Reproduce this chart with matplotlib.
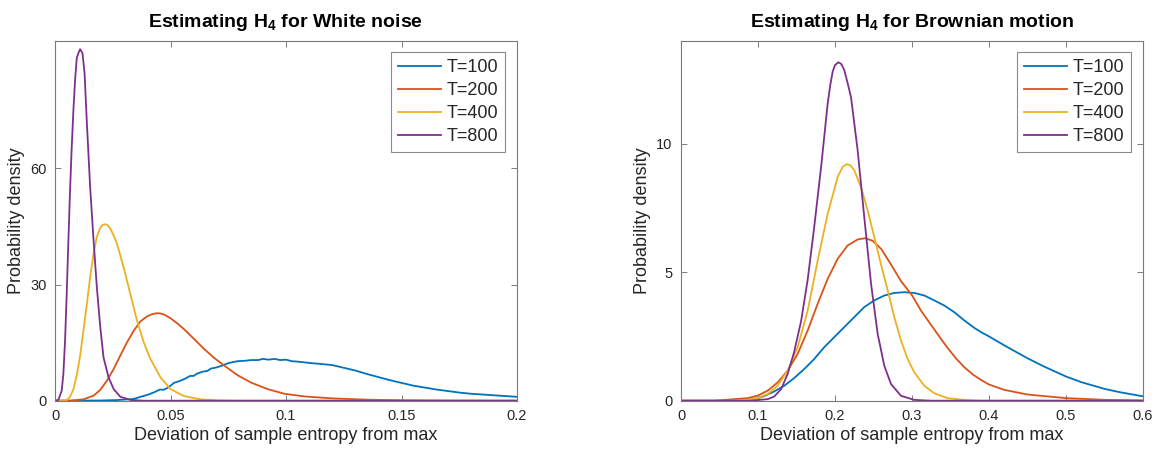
import matplotlib
matplotlib.use("Agg")
import matplotlib.pyplot as plt

plt.rcParams['font.family'] = ['Liberation Sans', 'DejaVu Sans']
plt.rcParams['mathtext.fontset'] = 'custom'
plt.rcParams['mathtext.rm'] = 'Liberation Sans'
plt.rcParams['mathtext.bf'] = 'Liberation Sans:bold'

# ---------------- data: white noise ----------------
wn_t100_x = [0.0, 0.02, 0.027, 0.034, 0.037, 0.040, 0.043, 0.0455, 0.047, 0.049, 0.0515,
             0.054, 0.056, 0.0585, 0.060, 0.0615, 0.064, 0.066, 0.0675, 0.070, 0.0725,
             0.075, 0.0765, 0.079, 0.082, 0.085, 0.088, 0.090, 0.0925, 0.095, 0.0975,
             0.100, 0.1025, 0.105, 0.108, 0.111, 0.115, 0.12, 0.125, 0.13, 0.135, 0.14,
             0.145, 0.15, 0.155, 0.16, 0.165, 0.17, 0.175, 0.18, 0.185, 0.19, 0.195, 0.2]
wn_t100_y = [0.0, 0.05, 0.17, 0.45, 1.0, 1.5, 2.2, 2.9, 2.8, 3.4, 4.6,
             5.1, 5.6, 6.4, 6.4, 7.0, 7.5, 7.7, 8.3, 8.6, 9.1,
             9.7, 9.9, 10.2, 10.3, 10.5, 10.5, 10.8, 10.6, 10.8, 10.5,
             10.6, 10.2, 10.1, 9.9, 9.7, 9.5, 9.2, 8.5, 7.8, 6.9, 6.1,
             5.3, 4.6, 3.9, 3.4, 2.9, 2.5, 2.1, 1.8, 1.6, 1.4, 1.2, 1.0]

wn_t200_x = [0.0, 0.0065, 0.0123, 0.0167, 0.0196, 0.0225, 0.0254, 0.0283, 0.0312, 0.0341,
             0.037, 0.0399, 0.0418, 0.0439, 0.0455, 0.0471, 0.05, 0.0529, 0.0558, 0.0601,
             0.0645, 0.0688, 0.0732, 0.079, 0.0848, 0.092, 0.0993, 0.108, 0.12, 0.136,
             0.152, 0.17, 0.2]
wn_t200_y = [0.0, 0.0, 0.35, 1.3, 2.8, 5.2, 8.2, 11.7, 15.1, 18.1,
             20.5, 21.8, 22.3, 22.6, 22.55, 22.3, 21.3, 20.0, 18.5, 16.0,
             13.4, 11.1, 9.1, 6.6, 4.7, 3.0, 1.8, 1.1, 0.6, 0.25,
             0.1, 0.03, 0.0]

wn_t400_x = [0.0, 0.0036, 0.0051, 0.0065, 0.008, 0.0094, 0.0109, 0.0123, 0.0138, 0.0152,
             0.0167, 0.0181, 0.0196, 0.0206, 0.0217, 0.0228, 0.0239, 0.0253, 0.0268,
             0.0297, 0.0326, 0.0355, 0.0384, 0.0413, 0.0457, 0.05, 0.0558, 0.063, 0.0703,
             0.079, 0.2]
wn_t400_y = [0.0, 0.0, 0.17, 1.0, 3.0, 6.5, 11.7, 18.1, 25.0, 31.9,
             38.0, 42.3, 44.7, 45.4, 45.6, 45.3, 44.5, 42.8, 40.6,
             34.5, 27.6, 20.7, 15.1, 10.8, 6.0, 3.0, 1.2, 0.35, 0.1,
             0.0, 0.0]

wn_t800_x = [0.0, 0.00145, 0.0029, 0.00362, 0.00435, 0.00507, 0.0058, 0.00652, 0.00725,
             0.00797, 0.0087, 0.00942, 0.01014, 0.01087, 0.0119, 0.0128, 0.0138, 0.0152,
             0.0167, 0.0181, 0.0196, 0.021, 0.0232, 0.0254, 0.0283, 0.0326, 0.0384, 0.2]
wn_t800_y = [0.0, 0.17, 2.6, 6.9, 15.5, 27.6, 41.4, 54.4, 65.6,
             75.1, 82.9, 88.5, 89.8, 90.8, 89.8, 84.6, 71.7, 55.3,
             41.4, 29.4, 19.0, 11.2, 6.0, 3.0, 1.0, 0.2, 0.0, 0.0]

# ---------------- data: Brownian motion ----------------
bm_t100_x = [0.0, 0.06, 0.0866, 0.0996, 0.108, 0.121, 0.134, 0.147, 0.16, 0.173, 0.186,
             0.199, 0.212, 0.225, 0.238, 0.251, 0.264, 0.277, 0.29, 0.303, 0.316, 0.329,
             0.342, 0.355, 0.368, 0.381, 0.39, 0.4, 0.42, 0.45, 0.47, 0.5, 0.52, 0.55,
             0.57, 0.6]
bm_t100_y = [0.0, 0.0, 0.04, 0.1, 0.18, 0.36, 0.58, 0.88, 1.23, 1.62, 2.08,
             2.47, 2.86, 3.25, 3.64, 3.9, 4.09, 4.19, 4.22, 4.19, 4.09, 3.9,
             3.7, 3.44, 3.12, 2.83, 2.66, 2.5, 2.15, 1.65, 1.35, 0.94, 0.72, 0.46,
             0.33, 0.17]

bm_t200_x = [0.0, 0.0433, 0.0866, 0.0996, 0.1126, 0.1255, 0.1385, 0.1515, 0.1645, 0.1775,
             0.1905, 0.2035, 0.2165, 0.2294, 0.239, 0.249, 0.26, 0.2727, 0.2857, 0.3,
             0.3117, 0.3247, 0.3377, 0.3463, 0.357, 0.368, 0.379, 0.39, 0.4, 0.42, 0.45,
             0.5, 0.55, 0.6]
bm_t200_y = [0.0, 0.0, 0.1, 0.2, 0.39, 0.71, 1.17, 1.82, 2.73, 3.77,
             4.74, 5.52, 6.04, 6.27, 6.32, 6.22, 5.9, 5.3, 4.65, 4.1,
             3.5, 2.95, 2.4, 2.05, 1.65, 1.3, 1.02, 0.8, 0.63, 0.42, 0.24,
             0.1, 0.035, 0.01]

bm_t400_x = [0.0, 0.065, 0.0866, 0.0996, 0.1126, 0.1255, 0.1385, 0.1515, 0.1645, 0.1775,
             0.1905, 0.2035, 0.21, 0.2156, 0.22, 0.2251, 0.2338, 0.2424, 0.2511, 0.2597,
             0.2684, 0.277, 0.2857, 0.2944, 0.303, 0.316, 0.329, 0.346, 0.368, 0.39, 0.6]
bm_t400_y = [0.0, 0.0, 0.04, 0.1, 0.26, 0.58, 1.17, 2.08, 3.5, 5.45,
             7.27, 8.7, 9.1, 9.2, 9.15, 8.96, 8.3, 7.4, 6.36, 5.3,
             4.3, 3.25, 2.34, 1.62, 1.1, 0.58, 0.29, 0.1, 0.03, 0.0, 0.0]

bm_t800_x = [0.0, 0.09, 0.1126, 0.121, 0.13, 0.1385, 0.147, 0.156, 0.1645, 0.173, 0.182,
             0.1905, 0.194, 0.197, 0.2, 0.2043, 0.208, 0.212, 0.216, 0.2208, 0.2294,
             0.238, 0.2468, 0.2554, 0.264, 0.2727, 0.2857, 0.303, 0.325, 0.6]
bm_t800_y = [0.0, 0.0, 0.06, 0.16, 0.45, 1.04, 1.9, 3.1, 4.7, 6.75, 9.1,
             11.56, 12.3, 12.8, 13.05, 13.16, 13.1, 12.86, 12.4, 11.8, 9.74,
             7.14, 4.55, 2.6, 1.36, 0.65, 0.19, 0.03, 0.0, 0.0]

series_labels = ['T=100', 'T=200', 'T=400', 'T=800']
series_colors = ['#0072BD', '#D95319', '#EDB120', '#7E2F8E']

wn_x_ticks = [0, 0.05, 0.1, 0.15, 0.2]
wn_x_ticklabels = ['0', '0.05', '0.1', '0.15', '0.2']
wn_y_ticks = [0, 30, 60]
bm_x_ticks = [0, 0.1, 0.2, 0.3, 0.4, 0.5, 0.6]
bm_x_ticklabels = ['0', '0.1', '0.2', '0.3', '0.4', '0.5', '0.6']
bm_y_ticks = [0, 5, 10]

W, H = 1155, 449
fig = plt.figure(figsize=(W / 100, H / 100), dpi=100)

ax_l = fig.add_axes([55 / W, 1 - 400.7 / H, 462 / W, 360 / H])
ax_r = fig.add_axes([681 / W, 1 - 400.7 / H, 462 / W, 360 / H])

edge = '#7a7a7a'
txt = '#262626'


def style(ax, title, xt, xtl, yt, xlim, ylim):
    ax.set_xlim(*xlim)
    ax.set_ylim(*ylim)
    ax.set_xticks(xt)
    ax.set_xticklabels(xtl)
    ax.set_yticks(yt)
    ax.set_yticklabels([str(v) for v in yt])
    ax.tick_params(direction='in', length=4, width=0.7, colors=edge,
                   labelcolor=txt, labelsize=10.5, top=True, right=True, pad=6)
    for s in ax.spines.values():
        s.set_color(edge)
        s.set_linewidth(0.8)
    ax.set_xlabel('Deviation of sample entropy from max', fontsize=13, color=txt, labelpad=3)
    ax.set_ylabel('Probability density', fontsize=13, color=txt, labelpad=4)
    ax.set_title(title, fontsize=14, fontweight='bold', color='black', pad=10)
    leg = ax.legend(loc='upper right', fontsize=13, frameon=True, fancybox=False,
                    edgecolor='#8a8a8a', framealpha=1, borderaxespad=0.65,
                    handlelength=2.4, handletextpad=0.3, labelspacing=0.33,
                    borderpad=0.38)
    leg.get_frame().set_linewidth(0.8)
    for t in leg.get_texts():
        t.set_color(txt)


lw = 1.3
for xs, ys, lab, col in zip([wn_t100_x, wn_t200_x, wn_t400_x, wn_t800_x],
                            [wn_t100_y, wn_t200_y, wn_t400_y, wn_t800_y],
                            series_labels, series_colors):
    ax_l.plot(xs, ys, color=col, lw=lw, label=lab)

for xs, ys, lab, col in zip([bm_t100_x, bm_t200_x, bm_t400_x, bm_t800_x],
                            [bm_t100_y, bm_t200_y, bm_t400_y, bm_t800_y],
                            series_labels, series_colors):
    ax_r.plot(xs, ys, color=col, lw=lw, label=lab)

style(ax_l, r'Estimating H$_\mathbf{4}$ for White noise', wn_x_ticks, wn_x_ticklabels,
      wn_y_ticks, (0, 0.2), (0, 93))
style(ax_r, r'Estimating H$_\mathbf{4}$ for Brownian motion', bm_x_ticks, bm_x_ticklabels,
      bm_y_ticks, (0, 0.6), (0, 14))

fig.savefig('out.png', dpi=100, facecolor='white')
